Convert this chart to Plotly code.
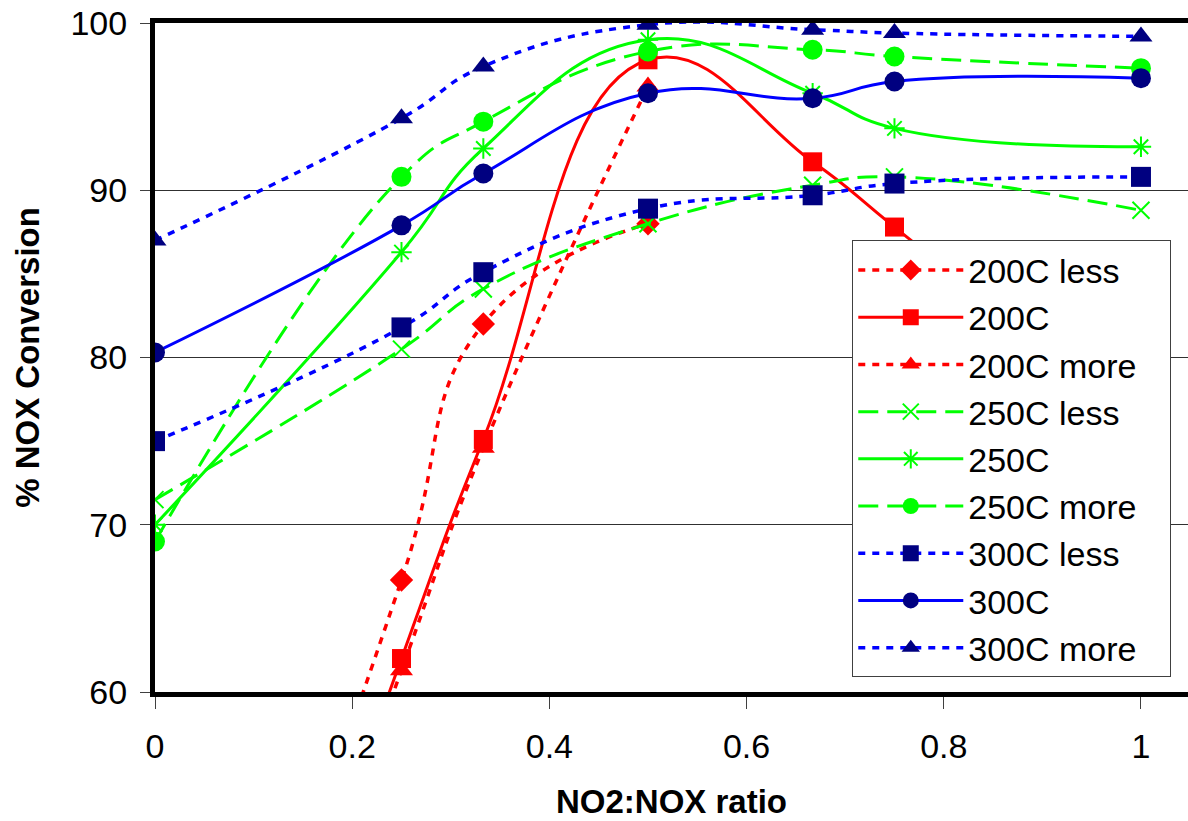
import plotly.graph_objects as go

x_full = [0, 0.25, 0.333, 0.5, 0.667, 0.75, 1]
x_200_part = [0, 0.25, 0.333, 0.5]

y_200_less = [25, 66.7, 82.0, 88.0]
y_200 = [20, 62.0, 75.1, 97.8, 91.7, 87.8, 76.0]
y_200_more = [20, 61.3, 74.6, 96.2]
y_250_less = [71.5, 80.5, 84.1, 88.0, 90.3, 90.8, 88.8]
y_250 = [70.0, 86.3, 92.5, 99.0, 95.8, 93.7, 92.6]
y_250_more = [69.0, 90.8, 94.1, 98.3, 98.4, 98.0, 97.3]
y_300_less = [75.0, 81.8, 85.1, 88.9, 89.7, 90.4, 90.8]
y_300 = [80.3, 87.9, 91.0, 95.8, 95.5, 96.5, 96.7]
y_300_more = [87.0, 94.3, 97.4, 99.9, 99.6, 99.4, 99.2]

names = ["200C less", "200C", "200C more", "250C less", "250C", "250C more",
         "300C less", "300C", "300C more"]

RED = "#FF0000"
GREEN = "#00FF00"
BLUE = "#0000FF"
NAVY = "#000080"
DOT = "7px,7px"
DASH = "20px,9px"

series = [
    (x_200_part, y_200_less, RED, DOT, dict(symbol="diamond", size=18, color=RED)),
    (x_full, y_200, RED, "solid", dict(symbol="square", size=19, color=RED)),
    (x_200_part, y_200_more, RED, DOT, dict(symbol="triangle-up", size=20, color=RED)),
    (x_full, y_250_less, GREEN, DASH, dict(symbol="x-thin-open", size=17, color=GREEN, line=dict(color=GREEN, width=2))),
    (x_full, y_250, GREEN, "solid", dict(symbol="asterisk-open", size=17, color=GREEN, line=dict(color=GREEN, width=2))),
    (x_full, y_250_more, GREEN, DASH, dict(symbol="circle", size=20, color=GREEN)),
    (x_full, y_300_less, BLUE, DOT, dict(symbol="square", size=20, color=NAVY)),
    (x_full, y_300, BLUE, "solid", dict(symbol="circle", size=20, color=NAVY)),
    (x_full, y_300_more, BLUE, DOT, dict(symbol="triangle-up", size=20, color=NAVY)),
]

fig = go.Figure()
for name, (xs, ys, lc, dash, mk) in zip(names, series):
    label = name + ("\u00a0\u00a0\u00a0" if name.endswith("more") else "")
    fig.add_trace(go.Scatter(
        x=xs, y=ys, name=label, mode="lines+markers",
        line=dict(color=lc, width=(3.5 if dash == DOT else 3), dash=dash,
                  shape="spline", smoothing=1.3),
        marker=mk,
    ))

FONT = "Liberation Sans, Arial, sans-serif"

fig.update_layout(
    width=1188, height=821,
    margin=dict(l=155, r=0, t=23, b=129),
    paper_bgcolor="white", plot_bgcolor="white",
    font=dict(family=FONT, color="black", size=34),
    showlegend=True,
    legend=dict(
        x=0.675, y=0.675, xanchor="left", yanchor="top",
        bgcolor="white", bordercolor="#404040", borderwidth=1,
        font=dict(size=34, family=FONT, color="black"),
        tracegroupgap=0, itemwidth=105,
    ),
    xaxis=dict(
        range=[0, 1.0477], tickvals=[0, 0.2, 0.4, 0.6, 0.8, 1],
        ticktext=["0", "0.2", "0.4", "0.6", "0.8", "1"],
        showgrid=False, zeroline=False,
        showline=True, linecolor="black", linewidth=5, mirror=True,
        ticks="outside", ticklen=12, tickcolor="#404040", tickwidth=1,
        tickfont=dict(size=34, family=FONT),
        ticklabelstandoff=8,
        title=dict(text="<b>NO2:NOX ratio</b>", font=dict(size=33, family=FONT), standoff=28),
    ),
    yaxis=dict(
        range=[60, 100], tickvals=[60, 70, 80, 90, 100],
        showgrid=True, gridcolor="#303030", gridwidth=1, zeroline=False,
        showline=True, linecolor="black", linewidth=5,
        ticks="outside", ticklen=10, tickcolor="#404040", tickwidth=1,
        tickfont=dict(size=34, family=FONT),
        ticklabelstandoff=6,
        title=dict(text="<b>% NOX Conversion</b>", font=dict(size=33, family=FONT), standoff=22),
    ),
)

fig.write_html("out.html")
